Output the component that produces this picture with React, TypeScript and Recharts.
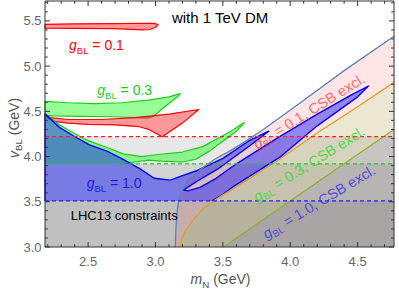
import React from 'react';
import { ScatterChart, Scatter, XAxis, YAxis } from 'recharts';

type Pt = [number, number];

const X_DOMAIN: Pt = [2.18, 4.77];
const Y_DOMAIN: Pt = [3.0, 5.72];

const xMajorTicks = [2.5, 3.0, 3.5, 4.0, 4.5];
const xMinorTicks = [2.2, 2.3, 2.4, 2.6, 2.7, 2.8, 2.9, 3.1, 3.2, 3.3, 3.4, 3.6, 3.7, 3.8, 3.9, 4.1, 4.2, 4.3, 4.4, 4.6, 4.7];
const yMajorTicks = [3.0, 3.5, 4.0, 4.5, 5.0, 5.5];
const yMinorTicks = [3.1, 3.2, 3.3, 3.4, 3.6, 3.7, 3.8, 3.9, 4.1, 4.2, 4.3, 4.4, 4.6, 4.7, 4.8, 4.9, 5.1, 5.2, 5.3, 5.4, 5.6, 5.7];

// LHC13 lower bounds on v_BL for g_BL = 0.1, 0.3, 1.0
const lhcBounds = [4.22, 3.92, 3.51];

// relic density contours (m_N, v_BL)
const redTop: Pt[] = [
  [2.18, 5.462], [2.4, 5.468], [2.7, 5.47], [2.9, 5.474], [2.99, 5.472], [3.02, 5.46], [3.0, 5.43],
  [2.96, 5.405], [2.9, 5.4], [2.7, 5.415], [2.4, 5.418], [2.18, 5.42],
];
const redLow: Pt[] = [
  [2.185, 4.47], [2.22, 4.43], [2.35, 4.41], [2.6, 4.41], [2.85, 4.43], [3.1, 4.47], [3.32, 4.52],
  [3.2, 4.37], [3.05, 4.22], [2.95, 4.3], [2.88, 4.33], [2.7, 4.35], [2.5, 4.355], [2.35, 4.37],
  [2.25, 4.39], [2.2, 4.43],
];
const greenTop: Pt[] = [
  [2.18, 4.61], [2.35, 4.595], [2.55, 4.585], [2.75, 4.595], [2.95, 4.625], [3.1, 4.66], [3.17, 4.69],
  [3.185, 4.695], [3.17, 4.67], [3.06, 4.54], [2.98, 4.44], [2.94, 4.425], [2.7, 4.44], [2.45, 4.445],
  [2.25, 4.45], [2.18, 4.455],
];
const greenLow: Pt[] = [
  [2.18, 4.47], [2.2, 4.45], [2.29, 4.35], [2.39, 4.26], [2.51, 4.17], [2.64, 4.1], [2.76, 4.03],
  [2.9, 4.0], [3.0, 4.02], [3.2, 4.05], [3.35, 4.11], [3.46, 4.2], [3.56, 4.28], [3.64, 4.36],
  [3.66, 4.375], [3.6, 4.28], [3.5, 4.17], [3.4, 4.06], [3.3, 3.97], [3.2, 3.94], [3.05, 3.95],
  [2.95, 3.96], [2.85, 3.94], [2.75, 3.92], [2.18, 3.92],
];
const blueRegion: Pt[] = [
  [3.42, 3.51], [3.5, 3.58], [3.58, 3.67], [3.75, 3.83], [3.93, 4.0], [4.2, 4.34], [4.5, 4.66],
  [4.58, 4.78], [4.45, 4.68], [4.2, 4.47], [3.9, 4.2], [3.6, 3.92], [3.45, 3.76], [3.33, 3.66],
  [3.24, 3.62], [3.21, 3.63], [3.3, 3.72], [3.46, 3.86], [3.7, 4.12], [3.84, 4.28], [3.7, 4.18],
  [3.5, 3.98], [3.3, 3.84], [3.2, 3.79], [3.11, 3.74], [2.99, 3.76], [2.88, 3.87], [2.76, 3.97],
  [2.64, 4.06], [2.51, 4.13], [2.39, 4.23], [2.29, 4.32], [2.18, 4.47], [2.18, 3.51],
];

// CSB exclusion boundaries
const csb01: Pt[] = [
  [3.147, 3.0], [3.15, 3.15], [3.155, 3.3], [3.165, 3.45], [3.18, 3.56], [3.21, 3.66], [3.245, 3.74],
  [3.3, 3.81], [3.345, 3.87], [3.44, 3.97], [3.55, 4.06], [3.66, 4.16], [3.8, 4.3], [4.07, 4.59],
  [4.4, 4.95], [4.77, 5.33],
];
const csb03: Pt[] = [
  [3.184, 3.0], [3.19, 3.07], [3.22, 3.17], [3.26, 3.26], [3.295, 3.33], [3.36, 3.43], [3.44, 3.52],
  [3.55, 3.62], [3.69, 3.75], [3.91, 3.96], [4.2, 4.26], [4.5, 4.55], [4.77, 4.82],
];
const csb10: Pt[] = [[3.505, 3.0], [4.01, 3.52], [4.77, 4.3]];

// text positions (m_N, v_BL)
const titlePos: Pt = [3.122, 5.48];
const g01Pos: Pt = [2.358, 5.178];
const g03Pos: Pt = [2.568, 4.681];
const g10Pos: Pt = [2.489, 3.656];
const lhcPos: Pt = [2.371, 3.299];
const csb01Pos: Pt = [4.14, 4.5];
const csb03Pos: Pt = [4.14, 3.918];
const csb10Pos: Pt = [4.213, 3.498];

const FONT = "'Liberation Sans', Arial, sans-serif";
const PLOT_W = 349;
const PLOT_H = 246;
const FRAME = '#333';

const toData = (pts: Pt[]) => pts.map(([x, y]) => ({ x, y }));
const noDot = () => null;

interface RegionOpts {
  fill?: string;
  fillOpacity?: number;
  stroke?: string;
  strokeWidth?: number;
  dash?: string;
  tail?: number; // trailing points left out of the outline
  closed?: boolean;
}

const region = (pts: Pt[], o: RegionOpts) => (
  <Scatter
    data={toData(pts)}
    isAnimationActive={false}
    shape={noDot}
    line={(lp: any) => {
      const p: { x: number; y: number }[] = lp.points;
      const path = (a: { x: number; y: number }[]) => 'M' + a.map(q => `${q.x},${q.y}`).join('L');
      const tail = o.tail ?? 0;
      const outline = p.slice(0, p.length - tail);
      return (
        <g>
          {o.fill && <path d={path(p) + 'Z'} fill={o.fill} fillOpacity={o.fillOpacity ?? 1} stroke="none" />}
          {o.stroke && (
            <path
              d={path(outline) + (o.closed && tail === 0 ? 'Z' : '')}
              fill="none"
              stroke={o.stroke}
              strokeWidth={o.strokeWidth ?? 1.2}
              strokeDasharray={o.dash}
              strokeLinejoin="round"
            />
          )}
        </g>
      );
    }}
  />
);

const gText = (rest: string) => (
  <>
    <tspan fontStyle="italic">g</tspan>
    <tspan fontSize="0.68em" dy={4}>BL</tspan>
    <tspan dy={-4}>{rest}</tspan>
  </>
);

const label = (pos: Pt, content: React.ReactNode, o: { color: string; size: number; anchor?: string; angle?: number; opacity?: number }) => (
  <Scatter
    data={toData([pos])}
    isAnimationActive={false}
    shape={(p: any) => (
      <text
        x={p.cx}
        y={p.cy}
        fill={o.color}
        fillOpacity={o.opacity ?? 1}
        fontSize={o.size}
        fontFamily={FONT}
        textAnchor={o.anchor ?? 'start'}
        dominantBaseline={o.angle ? 'central' : undefined}
        transform={o.angle ? `rotate(${o.angle} ${p.cx} ${p.cy})` : undefined}
      >
        {content}
      </text>
    )}
  />
);

const XTick = (p: any) => {
  const v = p.payload.value;
  const len = xMajorTicks.includes(v) ? 5 : 2.8;
  return (
    <g>
      <line x1={p.x} x2={p.x} y1={p.y} y2={p.y - len} stroke={FRAME} />
      <line x1={p.x} x2={p.x} y1={p.y - PLOT_H} y2={p.y - PLOT_H + len} stroke={FRAME} />
      {xMajorTicks.includes(v) && (
        <text x={p.x} y={p.y + 14} textAnchor="middle" dominantBaseline="central" fill="#666" fontSize={13} fontFamily={FONT}>
          {v.toFixed(1)}
        </text>
      )}
    </g>
  );
};

const YTick = (p: any) => {
  const v = p.payload.value;
  const len = yMajorTicks.includes(v) ? 5 : 2.8;
  return (
    <g>
      <line x1={p.x} x2={p.x + len} y1={p.y} y2={p.y} stroke={FRAME} />
      <line x1={p.x + PLOT_W} x2={p.x + PLOT_W - len} y1={p.y} y2={p.y} stroke={FRAME} />
      {yMajorTicks.includes(v) && (
        <text x={p.x - 3.5} y={p.y} textAnchor="end" dominantBaseline="central" fill="#666" fontSize={13} fontFamily={FONT}>
          {v.toFixed(1)}
        </text>
      )}
    </g>
  );
};

const XTitle = (props: any) => {
  const vb = props.viewBox;
  return (
    <text x={vb.x + vb.width / 2 + 1} y={vb.y + 37} textAnchor="middle" fill="#555" fontSize={14} fontFamily={FONT}>
      <tspan fontStyle="italic">m</tspan>
      <tspan fontSize="0.7em" dy={4}>N</tspan>
      <tspan dy={-4}> (GeV)</tspan>
    </text>
  );
};

const YTitle = (props: any) => {
  const vb = props.viewBox;
  const cx = vb.x + vb.width - 31;
  const cy = vb.y + vb.height / 2 + 4;
  return (
    <text x={cx} y={cy} textAnchor="middle" dominantBaseline="central" transform={`rotate(-90 ${cx} ${cy})`} fill="#555" fontSize={14} fontFamily={FONT}>
      <tspan fontStyle="italic">v</tspan>
      <tspan fontSize="0.7em" dy={4}>BL</tspan>
      <tspan dy={-4}> (GeV)</tspan>
    </text>
  );
};

const band = (b: number): Pt[] => [
  [X_DOMAIN[0], Y_DOMAIN[0]], [X_DOMAIN[1], Y_DOMAIN[0]], [X_DOMAIN[1], b], [X_DOMAIN[0], b],
];
const hline = (b: number): Pt[] => [[X_DOMAIN[0], b], [X_DOMAIN[1], b]];
const frame: Pt[] = [
  [X_DOMAIN[0], Y_DOMAIN[0]], [X_DOMAIN[1], Y_DOMAIN[0]], [X_DOMAIN[1], Y_DOMAIN[1]], [X_DOMAIN[0], Y_DOMAIN[1]],
];
const withCorner = (pts: Pt[]): Pt[] => [...pts, [X_DOMAIN[1], Y_DOMAIN[0]]];

export default function App() {
  return (
    <div style={{ position: 'absolute', left: 0, top: 0, background: '#fff' }}>
      <ScatterChart width={399} height={290} margin={{ top: 1, right: 5, bottom: 42, left: 44 }}>
        <XAxis
          type="number"
          dataKey="x"
          domain={X_DOMAIN}
          ticks={[...xMajorTicks, ...xMinorTicks]}
          interval={0}
          tick={XTick}
          tickLine={false}
          axisLine={false}
          tickSize={0}
          tickMargin={0}
          height={1}
          label={{ content: XTitle }}
        />
        <YAxis
          type="number"
          dataKey="y"
          domain={Y_DOMAIN}
          ticks={[...yMajorTicks, ...yMinorTicks]}
          interval={0}
          tick={YTick}
          tickLine={false}
          axisLine={false}
          tickSize={0}
          tickMargin={0}
          width={1}
          label={{ content: YTitle }}
        />

        {lhcBounds.map(b => region(band(b), { fill: '#000', fillOpacity: 0.09 }))}

        {region(withCorner(csb01), { fill: '#ff0000', fillOpacity: 0.1 })}
        {region(withCorner(csb03), { fill: '#00ff00', fillOpacity: 0.08 })}
        {region(withCorner(csb10), { fill: '#0000ff', fillOpacity: 0.07 })}

        {region(redTop, { fill: '#ff0000', fillOpacity: 0.4, stroke: '#ff0000', closed: true })}
        {region(greenTop, { fill: '#00ff00', fillOpacity: 0.4, stroke: '#1ccc1c', closed: true })}
        {region(redLow, { fill: '#ff0000', fillOpacity: 0.4, stroke: '#ff0000', closed: true })}
        {region(greenLow, { fill: '#00ff00', fillOpacity: 0.4, stroke: '#1ccc1c', tail: 1 })}
        {region(blueRegion, { fill: '#0000ff', fillOpacity: 0.42, stroke: '#0000ff', strokeWidth: 1.4, tail: 0 })}

        {region(csb01, { stroke: '#5E81B5', strokeWidth: 1.3 })}
        {region(csb03, { stroke: '#E19C24', strokeWidth: 1.3 })}
        {region(csb10, { stroke: '#8FB032', strokeWidth: 1.3 })}

        {region(hline(lhcBounds[0]), { stroke: '#ff2020', strokeWidth: 1.3, dash: '4 3' })}
        {region(hline(lhcBounds[1]), { stroke: '#1ccc1c', strokeWidth: 1.3, dash: '4 3' })}
        {region(hline(lhcBounds[2]), { stroke: '#1c1cff', strokeWidth: 1.3, dash: '4 3' })}

        {label(titlePos, 'with 1 TeV DM', { color: '#000', size: 15 })}
        {label(g01Pos, gText(' = 0.1'), { color: '#ff0000', size: 14 })}
        {label(g03Pos, gText(' = 0.3'), { color: '#1ccc1c', size: 14 })}
        {label(g10Pos, gText(' = 1.0'), { color: '#1c1cee', size: 14 })}
        {label(lhcPos, 'LHC13 constraints', { color: '#000', size: 13 })}
        {label(csb01Pos, gText(' = 0.1, CSB excl.'), { color: '#ff3030', size: 14.5, anchor: 'middle', angle: -32, opacity: 0.7 })}
        {label(csb03Pos, gText(' = 0.3, CSB excl.'), { color: '#22dd22', size: 14.5, anchor: 'middle', angle: -32, opacity: 0.75 })}
        {label(csb10Pos, gText(' = 1.0, CSB excl.'), { color: '#2a2aee', size: 14.5, anchor: 'middle', angle: -31, opacity: 0.75 })}

        {region(frame, { stroke: FRAME, strokeWidth: 1, closed: true })}
      </ScatterChart>
    </div>
  );
}
